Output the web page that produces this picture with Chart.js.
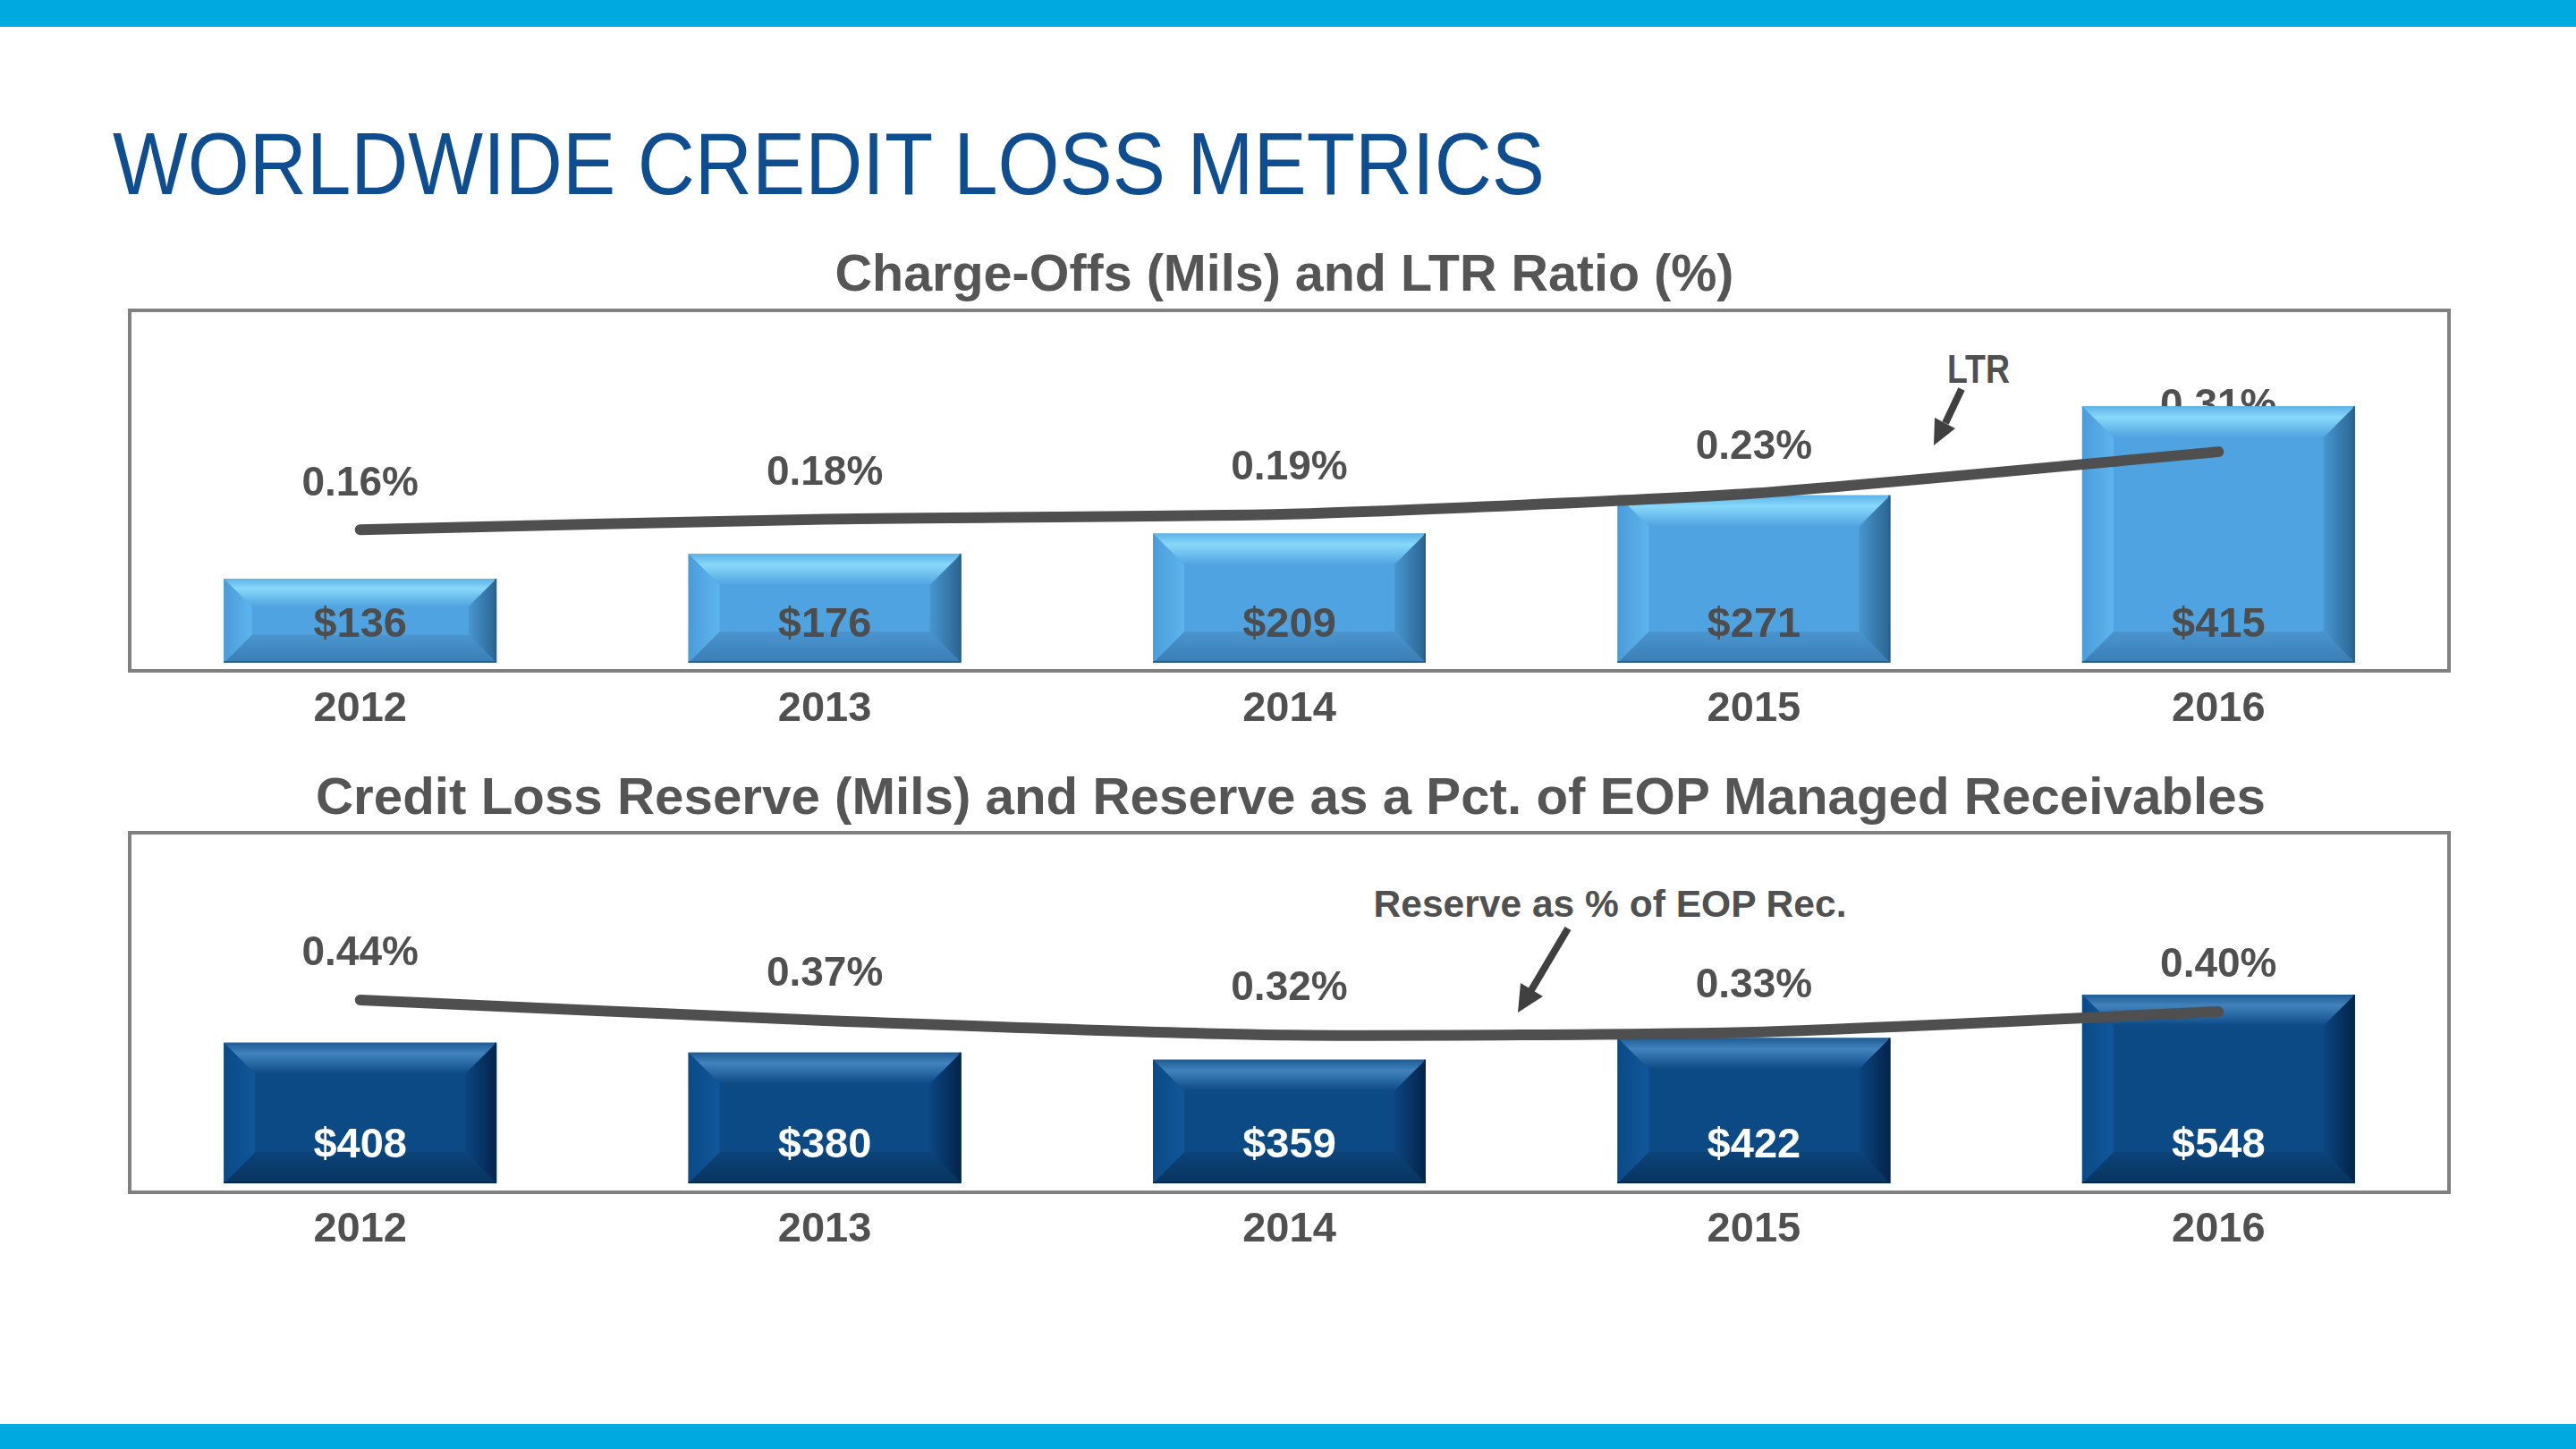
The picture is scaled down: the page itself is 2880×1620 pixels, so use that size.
<!DOCTYPE html>
<html>
<head>
<meta charset="utf-8">
<title>Worldwide Credit Loss Metrics</title>
<script src="https://cdn.jsdelivr.net/npm/chart.js@4.4.1/dist/chart.umd.min.js"></script>
<style>
  html, body { margin: 0; padding: 0; background: #fff; }
  #page { position: relative; width: 2880px; height: 1620px; overflow: hidden; background: #fff; }
  #page svg { position: absolute; left: 0; top: 0; }
  #page canvas { position: absolute; }
</style>
</head>
<body>
<div id="page">
  <svg width="2880" height="1620" font-family="Liberation Sans, Arial, sans-serif">
    <rect x="0" y="0" width="2880" height="30" fill="#00A9E0"/>
    <rect x="0" y="1592" width="2880" height="28" fill="#00A9E0"/>

    <text x="126" y="217" font-size="98" fill="#0E4D8F" textLength="1601" lengthAdjust="spacingAndGlyphs">WORLDWIDE CREDIT LOSS METRICS</text>

    <text x="1436" y="325" text-anchor="middle" font-size="58" font-weight="bold" fill="#555555" textLength="1005" lengthAdjust="spacingAndGlyphs">Charge-Offs (Mils) and LTR Ratio (%)</text>
    <text x="1443" y="910" text-anchor="middle" font-size="58" font-weight="bold" fill="#555555" textLength="2180" lengthAdjust="spacingAndGlyphs">Credit Loss Reserve (Mils) and Reserve as a Pct. of EOP Managed Receivables</text>

    <rect x="145" y="347" width="2593" height="403" fill="none" stroke="#808080" stroke-width="4"/>
    <rect x="145" y="931" width="2593" height="402" fill="none" stroke="#808080" stroke-width="4"/>

    <!-- annotations -->
    <text x="2212" y="428" text-anchor="middle" font-size="45" font-weight="bold" fill="#505050" textLength="70" lengthAdjust="spacingAndGlyphs">LTR</text>
    <line x1="2193" y1="435" x2="2175" y2="473" stroke="#404040" stroke-width="8"/>
    <polygon points="2162,498 2186,479 2163,467" fill="#404040"/>

    <text x="1800" y="1025" text-anchor="middle" font-size="42" font-weight="bold" fill="#505050" textLength="529" lengthAdjust="spacingAndGlyphs">Reserve as % of EOP Rec.</text>
    <line x1="1753" y1="1038" x2="1712" y2="1107" stroke="#404040" stroke-width="8"/>
    <polygon points="1697,1132 1725,1114 1700,1099" fill="#404040"/>
  </svg>
  <canvas id="chargeOffChart" width="2597" height="500" style="left:143px;top:345px"></canvas>
  <canvas id="reserveChart" width="2597" height="500" style="left:143px;top:929px"></canvas>
</div>

<script>
const years = ['2012', '2013', '2014', '2015', '2016'];
const chargeOffs = [136, 176, 209, 271, 415];
const ltrRatio = [0.16, 0.18, 0.19, 0.23, 0.31];
const reserve = [408, 380, 359, 422, 548];
const reservePct = [0.44, 0.37, 0.32, 0.33, 0.40];

const FONT = '"Liberation Sans", Arial, sans-serif';
const GRAY = '#505050';

// bevel colours: [edge, inner] per side, top gets an extra highlight stop
const lightBlue = {
  face: '#4FA3E0',
  top: ['#5DB3E8', '#88D8FA', '#4FA3E0'],
  bottom: ['#3A7DB4', '#4A95CF'],
  left: ['#4A9CD8', '#5EB5EE'],
  right: ['#2A6490', '#4896D0'],
  edge: '#2C5E86'
};
const darkBlue = {
  face: '#0C4A86',
  top: ['#1F5C95', '#4283BD', '#0C4A86'],
  bottom: ['#08345F', '#0B4379'],
  left: ['#0B4A86', '#10579A'],
  right: ['#04234A', '#0B4580'],
  edge: '#06284A'
};

function fillPoly(ctx, pts, style) {
  ctx.beginPath();
  ctx.moveTo(pts[0][0], pts[0][1]);
  for (let i = 1; i < pts.length; i++) ctx.lineTo(pts[i][0], pts[i][1]);
  ctx.closePath();
  ctx.fillStyle = style;
  ctx.fill();
}

function drawBevel(ctx, bar, pal) {
  const l = bar.x - bar.width / 2, r = bar.x + bar.width / 2;
  const t = bar.y, b = bar.base;
  const bv = Math.min(35, (b - t) / 3, bar.width / 4);
  const il = l + bv, ir = r - bv, it = t + bv, ib = b - bv;

  let g = ctx.createLinearGradient(0, t, 0, it);
  g.addColorStop(0, pal.top[0]);
  g.addColorStop(0.35, pal.top[1]);
  g.addColorStop(1, pal.top[2]);
  fillPoly(ctx, [[l, t], [r, t], [ir, it], [il, it]], g);

  g = ctx.createLinearGradient(0, b, 0, ib);
  g.addColorStop(0, pal.bottom[0]);
  g.addColorStop(1, pal.bottom[1]);
  fillPoly(ctx, [[l, b], [r, b], [ir, ib], [il, ib]], g);

  g = ctx.createLinearGradient(l, 0, il, 0);
  g.addColorStop(0, pal.left[0]);
  g.addColorStop(1, pal.left[1]);
  fillPoly(ctx, [[l, t], [il, it], [il, ib], [l, b]], g);

  g = ctx.createLinearGradient(r, 0, ir, 0);
  g.addColorStop(0, pal.right[0]);
  g.addColorStop(1, pal.right[1]);
  fillPoly(ctx, [[r, t], [ir, it], [ir, ib], [r, b]], g);

  ctx.strokeStyle = pal.edge;
  ctx.lineWidth = 2;
  ctx.beginPath();
  ctx.moveTo(r - 1, t);
  ctx.lineTo(r - 1, b - 1);
  ctx.lineTo(l, b - 1);
  ctx.stroke();
}

function makeDecor(o) {
  return {
    id: 'decor',
    beforeDatasetsDraw(chart) {
      // percent labels sit under the bars
      const ctx = chart.ctx;
      const meta = chart.getDatasetMeta(1);
      const vals = chart.data.datasets[1].data;
      ctx.save();
      ctx.font = 'bold 46px ' + FONT;
      ctx.fillStyle = GRAY;
      ctx.textAlign = 'center';
      ctx.textBaseline = 'middle';
      meta.data.forEach((pt, i) => {
        ctx.fillText(vals[i].toFixed(2) + '%', pt.x, pt.y - o.pctOffset);
      });
      ctx.restore();
    },
    afterDatasetDraw(chart, args) {
      if (args.index !== 0) return;
      const ctx = chart.ctx;
      const vals = chart.data.datasets[0].data;
      ctx.save();
      args.meta.data.forEach(bar => drawBevel(ctx, bar, o.pal));
      ctx.font = 'bold 47px ' + FONT;
      ctx.fillStyle = o.valueColor;
      ctx.textAlign = 'center';
      ctx.textBaseline = 'middle';
      args.meta.data.forEach((bar, i) => {
        ctx.fillText('$' + vals[i], bar.x, bar.base - 42);
      });
      ctx.restore();
    }
  };
}

function makeChart(id, bars, pcts, o) {
  return new Chart(document.getElementById(id), {
    type: 'bar',
    data: {
      labels: years,
      datasets: [
        {
          type: 'bar',
          data: bars,
          backgroundColor: o.pal.face,
          borderWidth: 0,
          barPercentage: 0.587,
          categoryPercentage: 1,
          order: 1,
          yAxisID: 'y'
        },
        {
          type: 'line',
          data: pcts,
          borderColor: '#4F4F4F',
          borderWidth: 12,
          borderCapStyle: 'round',
          borderJoinStyle: 'round',
          tension: 0.2,
          pointRadius: 0,
          fill: false,
          order: 0,
          yAxisID: 'y1'
        }
      ]
    },
    options: {
      responsive: false,
      animation: false,
      events: [],
      layout: { padding: 0 },
      plugins: { legend: { display: false }, tooltip: { enabled: false } },
      scales: {
        x: {
          grid: { display: false, drawTicks: false },
          border: { display: false },
          ticks: { font: { family: FONT, size: 47, weight: 'bold' }, color: GRAY, padding: 24 },
          afterFit: axis => { axis.height = o.axisH; }
        },
        y: { display: false, min: 0, max: o.barMax },
        y1: { display: false, min: o.pctMin, max: o.pctMax }
      }
    },
    plugins: [makeDecor(o)]
  });
}

makeChart('chargeOffChart', chargeOffs, ltrRatio, {
  pal: lightBlue, valueColor: '#4D4D4D', pctOffset: 51,
  axisH: 104, barMax: 573, pctMin: -0.0966, pctMax: 0.586
});

makeChart('reserveChart', reserve, reservePct, {
  pal: darkBlue, valueColor: '#FFFFFF', pctOffset: 52,
  axisH: 106, barMax: 1023, pctMin: -0.186, pctMax: 1.017
});
</script>
</body>
</html>
